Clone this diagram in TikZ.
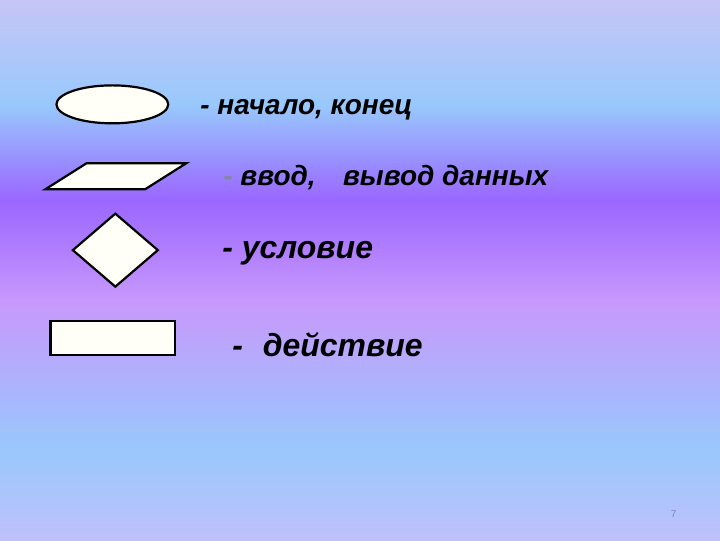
\documentclass[tikz,border=0pt]{standalone}
\usepackage{fontspec}
\setmainfont{Liberation Sans}
\usetikzlibrary{shapes.geometric, positioning}

\definecolor{bgtop}{HTML}{C6C6F6}
\definecolor{bgblue}{HTML}{98C8FC}
\definecolor{bgviolet}{HTML}{9A66FF}
\definecolor{bglilac}{HTML}{C898FC}
\definecolor{bgbot}{HTML}{C0C0FC}
\definecolor{shapefill}{HTML}{FFFFF8}
\definecolor{dashgray}{HTML}{8486A8}
\definecolor{pagenum}{HTML}{7C84BC}

\begin{document}
\begin{tikzpicture}[x=1pt, y=-1pt,
    sym/.style={draw=black, line width=2.2pt, fill=shapefill, inner sep=0pt},
    lbl/.style={anchor=base west, inner sep=0pt, font=\fontsize{28}{32}\selectfont\bfseries\itshape},
    biglbl/.style={lbl, font=\fontsize{32}{36}\selectfont\bfseries\itshape}]
    % background
    \foreach \ya/\yb/\ca/\cb in {0/105/bgtop/bgblue, 105/200/bgblue/bgviolet, 200/300/bgviolet/bglilac, 300/450/bglilac/bgblue, 450/540/bgblue/bgbot}
        \shade[top color=\ca, bottom color=\cb] (-0.5,\ya-0.5) rectangle (720.5,\yb+0.5);
    \useasboundingbox (0,0) rectangle (720,540);

    \node (term) [sym, ellipse, minimum width=112pt, minimum height=38pt] at (112,104) {};
    \node (io) [sym, trapezium, inner sep=2pt, trapezium left angle=55, trapezium right angle=125,
        trapezium stretches=true, minimum width=141pt, minimum height=26pt] at (115.5,176) {};
    \node (cond) [sym, diamond, minimum width=86pt, minimum height=74pt] at (115,250) {};
    \node (act) [sym, rectangle, minimum width=125pt, minimum height=34pt] at (112.5,338) {};

    \node (termtext) [lbl] at (200,114) {- начало, конец};
    \node (iotext) [lbl] at (223,185) {\textcolor{dashgray}{-} ввод,\hspace{0.98em}вывод данных};
    \node (condtext) [biglbl] at (222,258) {- условие};
    \node (acttext) [biglbl] at (232,356) {-\hspace{0.62em}действие};

    \node (page) [font=\fontsize{10}{12}\selectfont, text=pagenum] at (674,514) {7};
\end{tikzpicture}
\end{document}
